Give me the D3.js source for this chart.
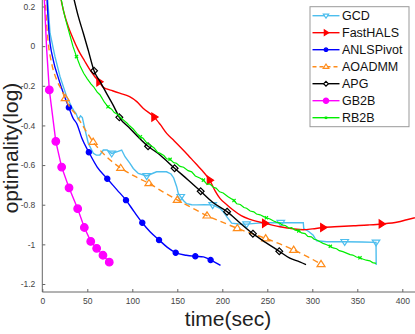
<!DOCTYPE html>
<html>
<head>
<meta charset="utf-8">
<script src="https://cdn.jsdelivr.net/npm/d3@7"></script>
<style>
  body { margin: 0; background: #fff; }
  text { font-family: "Liberation Sans", Arial, sans-serif; }
</style>
</head>
<body>
<script>
// values: [time(sec), optimality(log)]
var seriesNames = ["GCD", "FastHALS", "ANLSPivot", "AOADMM", "APG", "GB2B", "RB2B"];
var xTicks = [0, 50, 100, 150, 200, 250, 300, 350, 400];
var yTicks = [0.2, 0, -0.2, -0.4, -0.6, -0.8, -1, -1.2];
var yTickLabels = ["0.2", "0", "-0.2", "-0.4", "-0.6", "-0.8", "-1", "-1.2"];

var gcdLine = [[5.6,0.26],[8.6,0.065],[14.1,-0.053],[19.7,-0.154],[27.1,-0.255],[32.6,-0.306],[35,-0.325],[37.5,-0.34],[40,-0.37],[42.5,-0.352],[44.5,-0.36],[47.4,-0.42],[51.1,-0.49],[56.7,-0.541],[60,-0.55],[64,-0.549],[67.8,-0.524],[72,-0.524],[77.1,-0.541],[82.7,-0.533],[88.2,-0.524],[91.9,-0.558],[97.4,-0.591],[101.1,-0.617],[106.7,-0.642],[116,-0.655],[121,-0.645],[127,-0.634],[138,-0.634],[143,-0.645],[146,-0.665],[149.3,-0.709],[151.1,-0.743],[153.8,-0.76],[157,-0.78],[160.4,-0.795],[166,-0.8],[171.6,-0.801],[180,-0.8],[189.3,-0.801],[197.4,-0.818],[201,-0.835],[204.9,-0.86],[210.4,-0.893],[218,-0.897],[227,-0.898],[240,-0.893],[249,-0.891],[265,-0.891],[280,-0.891],[290,-0.891],[290.5,-0.92],[296,-0.935],[301,-0.954],[303,-0.97],[305,-0.982],[316,-0.987],[336,-0.987],[355,-0.988],[370.8,-0.99],[371,-1.104]];
var gcdMarks = [[77.1,-0.541],[116,-0.655],[153.8,-0.76],[189.3,-0.801],[227,-0.898],[265,-0.891],[336,-0.987],[370.8,-0.99]];

var halsLine = [[19.7,0.26],[24,0.17],[28.9,0.098],[34,0.04],[40,-0.02],[47,-0.075],[53,-0.12],[58,-0.152],[63.3,-0.18],[67,-0.205],[71.5,-0.216],[78,-0.225],[86,-0.237],[97,-0.255],[105,-0.28],[112,-0.313],[124.4,-0.358],[131,-0.395],[138.2,-0.44],[146,-0.475],[153,-0.507],[162,-0.55],[168,-0.58],[175,-0.615],[179,-0.635],[186,-0.676],[192,-0.73],[197.4,-0.768],[205,-0.8],[212,-0.827],[221,-0.855],[231,-0.874],[247.4,-0.894],[264,-0.911],[279,-0.922],[290,-0.926],[300,-0.922],[312,-0.915],[330,-0.91],[346,-0.906],[362,-0.902],[377,-0.897],[395,-0.887],[405,-0.876],[414,-0.866]];
var halsMarks = [[63.3,-0.18],[124.4,-0.358],[186,-0.676],[247.4,-0.894],[312,-0.915],[377,-0.897]];

var anlsLine = [[5,0.26],[7.5,0.065],[12.2,-0.07],[17.8,-0.16],[24,-0.245],[29.5,-0.309],[34.4,-0.365],[38.2,-0.39],[44,-0.465],[51.7,-0.535],[61,-0.61],[72.2,-0.669],[83,-0.725],[93,-0.777],[102,-0.835],[111.1,-0.891],[120,-0.938],[129.7,-0.978],[139,-1.015],[148.2,-1.042],[160,-1.055],[170,-1.06],[179,-1.063],[187,-1.079],[193,-1.093],[198,-1.106]];
var anlsMarks = [[29.5,-0.309],[51.7,-0.535],[72.2,-0.669],[93,-0.777],[111.1,-0.891],[129.7,-0.978],[148.2,-1.042],[170,-1.06],[187,-1.079]];

var aoadmmLine = [[3,0.26],[5,0.1],[6.7,0.014],[10.4,-0.087],[16,-0.171],[21.5,-0.221],[25.5,-0.263],[31,-0.31],[36.3,-0.339],[45.6,-0.406],[56.5,-0.483],[71.5,-0.558],[87.1,-0.615],[102,-0.655],[118.5,-0.692],[134,-0.735],[150,-0.776],[166,-0.815],[183,-0.855],[200,-0.888],[216.7,-0.919],[232,-0.945],[248.2,-0.97],[264,-0.998],[279.3,-1.028],[295,-1.063],[309.7,-1.1]];
var aoadmmMarks = [[25.5,-0.263],[56.5,-0.483],[87.1,-0.615],[118.5,-0.692],[150,-0.776],[183,-0.855],[216.7,-0.919],[248.2,-0.97],[279.3,-1.028],[309.7,-1.1]];

var apgLine = [[34,0.26],[40,0.15],[45.6,0.065],[51,-0.02],[57.5,-0.124],[65,-0.185],[72,-0.243],[79,-0.3],[85.6,-0.359],[97.4,-0.415],[117.5,-0.505],[130.8,-0.549],[147,-0.616],[162,-0.675],[176,-0.732],[190,-0.79],[205.3,-0.835],[219.7,-0.892],[234,-0.946],[248,-0.99],[263.3,-1.035],[275,-1.07],[286,-1.088],[293,-1.102]];
var apgMarks = [[57.5,-0.124],[85.6,-0.359],[117.5,-0.505],[147,-0.616],[176,-0.732],[205.3,-0.835],[234,-0.946],[263.3,-1.035]];

var gb2bLine = [[2,0.26],[4.9,-0.02],[7.8,-0.221],[15,-0.48],[21.5,-0.61],[29.7,-0.715],[39.3,-0.82],[46.7,-0.915],[53.8,-0.985],[60.4,-1.02],[67.4,-1.055],[74.4,-1.09]];
var gb2bMarks = [[7.8,-0.221],[15,-0.48],[21.5,-0.61],[29.7,-0.715],[39.3,-0.82],[46.7,-0.915],[53.8,-0.985],[60.4,-1.02],[67.4,-1.055],[74.4,-1.09]];

var rb2bLine = [[20,0.26],[23,0.19],[25,0.15],[28,0.1],[31,0.05],[34,0],[38,-0.053],[42,-0.1],[46,-0.137],[50,-0.165],[54,-0.19],[57,-0.205],[61,-0.232],[64,-0.245],[66,-0.26],[69,-0.283],[73,-0.306],[77,-0.318],[80,-0.335],[84,-0.345],[86,-0.356],[90,-0.372],[94,-0.388],[97,-0.402],[101,-0.418],[105,-0.44],[109,-0.457],[112,-0.465],[116,-0.488],[120,-0.5],[124,-0.512],[128,-0.535],[131,-0.541],[135,-0.552],[138,-0.568],[142,-0.571],[146,-0.588],[149,-0.591],[153,-0.607],[157,-0.611],[162,-0.628],[166,-0.634],[170,-0.655],[175,-0.665],[179,-0.676],[183,-0.697],[186,-0.695],[190,-0.712],[193,-0.716],[197,-0.735],[201,-0.741],[206,-0.758],[210,-0.77],[213,-0.779],[216,-0.795],[220,-0.799],[224,-0.814],[227,-0.818],[231,-0.832],[235,-0.836],[238,-0.847],[242,-0.851],[246,-0.86],[249,-0.866],[253,-0.872],[257,-0.882],[260,-0.888],[264,-0.893],[267,-0.903],[270,-0.905],[274,-0.918],[277,-0.916],[281,-0.928],[285,-0.932],[288,-0.942],[292,-0.946],[295,-0.96],[299,-0.962],[302,-0.974],[305,-0.978],[309,-0.988],[312,-0.995],[316,-1.002],[320,-1.01],[323,-1.018],[327,-1.022],[330,-1.032],[334,-1.037],[338,-1.044],[342,-1.052],[345,-1.054],[349,-1.064],[353,-1.068],[356,-1.074],[360,-1.08],[364,-1.083],[367,-1.092],[371,-1.096]];
var rb2bMarks = [[38,-0.053],[73,-0.306],[109,-0.457],[142,-0.571],[179,-0.676],[213,-0.779],[249,-0.866],[285,-0.932],[320,-1.01],[353,-1.068]];

var width = 415, height = 334;
var svg = d3.select("body").append("svg").attr("width", width).attr("height", height);

var x = d3.scaleLinear().domain([0, 400]).range([42.3, 402.3]);
var y = d3.scaleLinear().domain([0.2, -1.2]).range([6.5, 284]);
var plotLeft = 42.3, plotRight = 415, plotTop = 0, plotBottom = 292;

svg.append("clipPath").attr("id", "plot")
  .append("rect").attr("x", plotLeft).attr("y", plotTop)
  .attr("width", plotRight - plotLeft).attr("height", plotBottom - plotTop);

// axes, ticks pointing inwards
var xAxis = d3.axisBottom(x).tickValues(xTicks).tickSizeInner(-3).tickSizeOuter(0).tickPadding(6);
var yAxis = d3.axisLeft(y).tickValues(yTicks).tickSizeInner(-3).tickSizeOuter(0).tickPadding(7)
  .tickFormat(function(d, i) { return yTickLabels[i]; });

var gx = svg.append("g").attr("transform", "translate(0," + plotBottom + ")").call(xAxis);
var gy = svg.append("g").attr("transform", "translate(" + plotLeft + ",0)").call(yAxis);
[gx, gy].forEach(function(g) {
  g.select(".domain").remove();
  g.selectAll(".tick line").attr("stroke", "#666");
  g.selectAll(".tick text").attr("fill", "#444").style("font-size", "8.5px");
});
svg.append("line").attr("x1", plotLeft).attr("x2", plotRight).attr("y1", plotBottom).attr("y2", plotBottom)
  .attr("stroke", "#666");
svg.append("line").attr("x1", plotLeft).attr("x2", plotLeft).attr("y1", plotTop).attr("y2", plotBottom)
  .attr("stroke", "#666");

svg.append("text").attr("x", 228).attr("y", 326).attr("text-anchor", "middle")
  .style("font-size", "21px").attr("fill", "#222").text("time(sec)");
svg.append("text").attr("transform", "translate(18,148) rotate(-90)").attr("text-anchor", "middle")
  .style("font-size", "21px").attr("fill", "#222").text("optimality(log)");

// marker shapes
function markerPath(type, s) {
  if (type == "tridown") return "M" + (-s) + "," + (-s * 0.6) + "L" + s + "," + (-s * 0.6) + "L0," + (s * 0.95) + "Z";
  if (type == "triup") return "M" + (-s) + "," + (s * 0.6) + "L" + s + "," + (s * 0.6) + "L0," + (-s * 0.95) + "Z";
  if (type == "triright") return "M" + (-s * 0.6) + "," + (-s) + "L" + (-s * 0.6) + "," + s + "L" + (s * 0.95) + ",0Z";
  if (type == "diamond") return "M0," + (-s) + "L" + s + ",0L0," + s + "L" + (-s) + ",0Z";
  if (type == "cross") return "M" + (-s) + "," + (-s) + "L" + s + "," + s + "M" + (-s) + "," + s + "L" + s + "," + (-s);
  // circle
  return "M" + s + ",0A" + s + "," + s + " 0 1,1 " + (-s) + ",0A" + s + "," + s + " 0 1,1 " + s + ",0Z";
}

var series = [
  { name: seriesNames[0], color: "#4DBEEE", line: gcdLine, marks: gcdMarks, marker: "tridown", size: 3.8, filled: false, curve: d3.curveLinear },
  { name: seriesNames[1], color: "#FF0000", line: halsLine, marks: halsMarks, marker: "triright", size: 4, filled: true, curve: d3.curveMonotoneX },
  { name: seriesNames[2], color: "#0000FF", line: anlsLine, marks: anlsMarks, marker: "circle", size: 2.6, filled: true, curve: d3.curveMonotoneX },
  { name: seriesNames[3], color: "#FF8C1A", line: aoadmmLine, marks: aoadmmMarks, marker: "triup", size: 4, filled: false, curve: d3.curveMonotoneX, dash: "6,4" },
  { name: seriesNames[4], color: "#000000", line: apgLine, marks: apgMarks, marker: "diamond", size: 3.4, filled: false, curve: d3.curveMonotoneX },
  { name: seriesNames[5], color: "#FF00FF", line: gb2bLine, marks: gb2bMarks, marker: "circle", size: 3.8, filled: true, curve: d3.curveLinear },
  { name: seriesNames[6], color: "#00EE00", line: rb2bLine, marks: rb2bMarks, marker: "cross", size: 1.6, filled: false, curve: d3.curveLinear, width: 1.2 }
];

var plot = svg.append("g").attr("clip-path", "url(#plot)");

series.forEach(function(s) {
  var line = d3.line().curve(s.curve)
    .x(function(d) { return x(d[0]); })
    .y(function(d) { return y(d[1]); });
  plot.append("path").attr("d", line(s.line))
    .attr("fill", "none").attr("stroke", s.color).attr("stroke-width", s.width || 1.4)
    .attr("stroke-dasharray", s.dash || null);
  plot.selectAll(null).data(s.marks).enter().append("path")
    .attr("transform", function(d) { return "translate(" + x(d[0]) + "," + y(d[1]) + ")"; })
    .attr("d", markerPath(s.marker, s.size))
    .attr("fill", s.filled ? s.color : "none")
    .attr("stroke", s.color).attr("stroke-width", 1.2);
});

// legend
var legend = svg.append("g");
legend.append("rect").attr("x", 310).attr("y", 6.7).attr("width", 99).attr("height", 120)
  .attr("fill", "#fff").attr("stroke", "#999").attr("stroke-width", 1);
series.forEach(function(s, i) {
  var ly = 15.7 + i * 17;
  legend.append("line").attr("x1", 312.5).attr("x2", 339.5).attr("y1", ly).attr("y2", ly)
    .attr("stroke", s.color).attr("stroke-width", 1.4).attr("stroke-dasharray", s.dash ? "4,3" : null);
  legend.append("path").attr("transform", "translate(326," + ly + ")")
    .attr("d", markerPath(s.marker, s.size * 0.7))
    .attr("fill", s.filled ? s.color : "#fff").attr("stroke", s.color).attr("stroke-width", 1.2);
  legend.append("text").attr("x", 342).attr("y", ly).attr("dy", "0.36em")
    .style("font-size", "12.5px").attr("fill", "#111").text(s.name);
});
</script>
</body>
</html>
